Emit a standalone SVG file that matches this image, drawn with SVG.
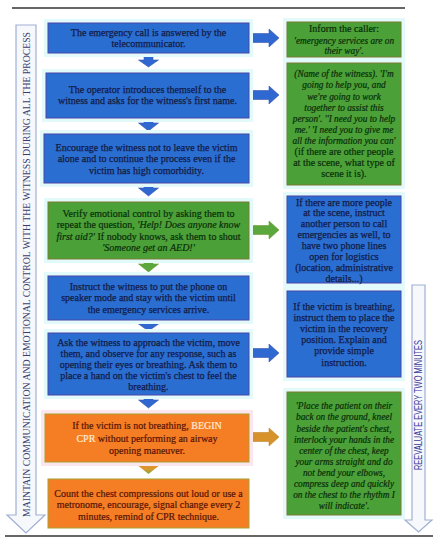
<svg xmlns="http://www.w3.org/2000/svg" width="439" height="550" viewBox="0 0 439 550">
<style>
text{font-family:"Liberation Serif","Times New Roman",serif;font-size:10px;text-anchor:middle}
.glow{fill:#E3FAFA}
.bb{fill:#2B6ED2;stroke:#4A45A6;stroke-width:1}
.gb{fill:#4BA037;stroke:#7C7A34;stroke-width:1}
.ob{fill:#F57D23;stroke:#A7A033;stroke-width:1}
.tb{fill:#121C48;stroke:#121C48;stroke-width:0.25}
.tg{fill:#0A2E0A;stroke:#0A2E0A;stroke-width:0.2}
.to{fill:#551407;stroke:#551407;stroke-width:0.2}
.it{font-style:italic;font-size:9.3px}
.ba{fill:#2E68D0;stroke:#3D56B0;stroke-width:0.6}
.ga{fill:#5AA83C;stroke:#6E9A38;stroke-width:0.6}
.side{fill:#F6F8FC;stroke:#9FB0D4;stroke-width:1.2}
.wh{fill:#FFEBD6;stroke:#FFEBD6}
</style>
<defs>
<linearGradient id="og" x1="0" y1="0" x2="0" y2="1">
<stop offset="0" stop-color="#EF8A2A"/>
<stop offset="0.6" stop-color="#D69A2E"/>
<stop offset="1" stop-color="#7FA83A"/>
</linearGradient>
</defs>
<line x1="12" y1="8" x2="405" y2="8" stroke="#333" stroke-width="1.6"/>
<line x1="5" y1="536" x2="433" y2="536" stroke="#333" stroke-width="1.6"/>
<g id="side-left">
<path class="side" d="M16,25 H36 V515 H45 L26,533 L7,515 H16 Z"/>
<text transform="translate(30,274.5) rotate(-90)" font-size="8.5" fill="#3A3C6E" textLength="485" lengthAdjust="spacingAndGlyphs">MAINTAIN COMMUNICATION AND EMOTIONAL CONTROL WITH THE WITNESS DURING ALL THE PROCESS</text>
</g>
<g id="side-right">
<path class="side" d="M412,285 H425 V520 H432 L418.5,532 L405,520 H412 Z"/>
<text transform="translate(421.5,405) rotate(-90)" style="font-family:'Liberation Sans',Arial,sans-serif" font-size="8" fill="#3A3A9A" textLength="130" lengthAdjust="spacingAndGlyphs">REEVALUATE EVERY TWO MINUTES</text>
</g>
<g id="connectors">
<path class="ba" d="M144,53 H153 V60 H158.5 L148.5,67 L138.5,60 H144 Z"/>
<path class="ba" d="M144,118 H153 V123 H158.5 L148.5,131 L138.5,123 H144 Z"/>
<path class="ba" d="M144,183 H153 V188 H158.5 L148.5,196 L138.5,188 H144 Z"/>
<path class="ga" d="M144,259 H153 V264 H158.5 L148.5,272 L138.5,264 H144 Z"/>
<path class="ba" d="M144,320 H153 V324 H158.5 L148.5,331 L138.5,324 H144 Z"/>
<path class="ba" d="M144,395 H153 V400 H158.5 L148.5,408 L138.5,400 H144 Z"/>
<path d="M144,462 H153 V466 H158.5 L148.5,474 L138.5,466 H144 Z" fill="url(#og)"/>
<path class="ba" d="M249,33.5 H269 V29 L279,38 L269,47 V42.5 H249 Z"/>
<path class="ba" d="M249,90.5 H269 V86 L279,95 L269,104 V99.5 H249 Z"/>
<path class="ga" d="M249,225.5 H269 V221 L279,230 L269,239 V234.5 H249 Z"/>
<path class="ba" d="M249,348.5 H269 V344 L279,353 L269,362 V357.5 H249 Z"/>
<path d="M249,432.5 H269 V428 L279,437 L269,446 V441.5 H249 Z" fill="#D8922C" stroke="#C0882C" stroke-width="0.6"/>
</g>
<g id="n1">
<rect class="glow" x="44" y="19" width="209" height="38"/>
<rect class="bb" x="48" y="23" width="201" height="30"/>
<text class="tb" x="148.5" y="35.5">The emergency call is answered by the</text>
<text class="tb" x="148.5" y="46.5">telecommunicator.</text>
</g>
<g id="n2">
<rect class="glow" x="42" y="69" width="211" height="53"/>
<rect class="bb" x="46" y="73" width="203" height="45"/>
<text class="tb" x="147.5" y="92.5">The operator introduces  themself to the</text>
<text class="tb" x="147.5" y="103.5">witness and asks for the witness's first name.</text>
</g>
<g id="n3">
<rect class="glow" x="40" y="130" width="213" height="57"/>
<rect class="bb" x="44" y="134" width="205" height="49"/>
<text class="tb" x="146.5" y="150.5">Encourage the witness not to leave the victim</text>
<text class="tb" x="146.5" y="162">alone and to continue the process even if the</text>
<text class="tb" x="146.5" y="173.5">victim has high comorbidity.</text>
</g>
<g id="n4">
<rect class="glow" x="44" y="198" width="209" height="65"/>
<rect class="gb" x="48" y="202" width="201" height="57"/>
<text class="tg" x="148.5" y="216.5">Verify emotional control by asking them to</text>
<text class="tg" x="148.5" y="228">repeat the question, <tspan font-style="italic">'Help! Does anyone know</tspan></text>
<text class="tg" x="148.5" y="239.5"><tspan font-style="italic">first aid?'</tspan> If nobody knows, ask them to shout</text>
<text class="tg" x="148.5" y="251" font-style="italic">'Someone get an AED!'</text>
</g>
<g id="n5">
<rect class="glow" x="44" y="272" width="209" height="52"/>
<rect class="bb" x="48" y="276" width="201" height="44"/>
<text class="tb" x="148.5" y="289.5">Instruct the witness to put the phone on</text>
<text class="tb" x="148.5" y="301">speaker mode and stay with the victim until</text>
<text class="tb" x="148.5" y="312.5">the emergency services arrive.</text>
</g>
<g id="n6">
<rect class="glow" x="44" y="329" width="209" height="70"/>
<rect class="bb" x="48" y="333" width="201" height="62"/>
<text class="tb" x="148.5" y="345.5">Ask the witness to approach  the victim, move</text>
<text class="tb" x="148.5" y="357">them, and observe for any response, such as</text>
<text class="tb" x="148.5" y="368">opening their eyes or breathing. Ask them to</text>
<text class="tb" x="148.5" y="379">place a hand on the victim's chest to feel the</text>
<text class="tb" x="148.5" y="390">breathing.</text>
</g>
<g id="n7">
<rect x="41" y="410" width="212" height="56" fill="#FCE6EE"/>
<rect class="ob" x="45" y="414" width="204" height="48"/>
<text class="to" x="147" y="429" font-size="11.5">If the victim is not breathing, <tspan class="wh">BEGIN</tspan></text>
<text class="to" x="147" y="441.5" font-size="11.5"><tspan class="wh">CPR</tspan> without performing an airway</text>
<text class="to" x="147" y="454" font-size="11.5">opening maneuver.</text>
</g>
<g id="n8">
<rect class="ob" x="48" y="479" width="201" height="49"/>
<text class="to" x="148.5" y="496.5">Count the chest compressions out loud or use a</text>
<text class="to" x="148.5" y="508">metronome, encourage, signal change every 2</text>
<text class="to" x="148.5" y="519.5">minutes, remind of CPR technique.</text>
</g>
<g id="r1">
<rect class="glow" x="283" y="18" width="122" height="43"/>
<rect class="gb" x="287" y="22" width="114" height="35"/>
<text class="tg" x="344" y="31.5">Inform the caller:</text>
<text class="tg it" x="344" y="44">'emergency services are on</text>
<text class="tg it" x="344" y="54">their way'.</text>
</g>
<g id="r2">
<rect class="glow" x="283" y="59" width="122" height="130"/>
<rect class="gb" x="287" y="63" width="114" height="122"/>
<text class="tg it" x="344" y="77.3">(Name of the witness). 'I'm</text>
<text class="tg it" x="344" y="88.4">going to help you, and</text>
<text class="tg it" x="344" y="99.5">we're going to work</text>
<text class="tg it" x="344" y="110.6">together to assist this</text>
<text class="tg it" x="344" y="121.7">person'. ''I need you to help</text>
<text class="tg it" x="344" y="132.8">me.' 'I need you to give me</text>
<text class="tg it" x="344" y="143.9">all the information you can'</text>
<text class="tg" x="344" y="155">(if there are other people</text>
<text class="tg" x="344" y="166.1">at the scene, what type of</text>
<text class="tg" x="344" y="177.2">scene it is).</text>
</g>
<g id="r3">
<rect class="glow" x="283" y="192" width="122" height="95"/>
<rect class="bb" x="287" y="196" width="114" height="87"/>
<text class="tb" x="344" y="205.5">If there are more people</text>
<text class="tb" x="344" y="216.4">at the scene, instruct</text>
<text class="tb" x="344" y="227.3">another person to call</text>
<text class="tb" x="344" y="238.2">emergencies as well, to</text>
<text class="tb" x="344" y="249.1">have two phone lines</text>
<text class="tb" x="344" y="260">open for logistics</text>
<text class="tb" x="344" y="270.9">(location,  administrative</text>
<text class="tb" x="344" y="281.5">details...)</text>
</g>
<g id="r4">
<rect class="glow" x="283" y="287" width="122" height="94"/>
<rect class="bb" x="287" y="291" width="114" height="86"/>
<text class="tb" x="344" y="309.5">If the victim is breathing,</text>
<text class="tb" x="344" y="320.7">instruct them to place the</text>
<text class="tb" x="344" y="331.9">victim in the recovery</text>
<text class="tb" x="344" y="343.1">position. Explain and</text>
<text class="tb" x="344" y="354.3">provide simple</text>
<text class="tb" x="344" y="365.5">instruction.</text>
</g>
<g id="r5">
<rect class="glow" x="283" y="388" width="122" height="131"/>
<rect class="gb" x="287" y="392" width="114" height="123"/>
<text class="tg it" x="344" y="409.3">'Place the patient on their</text>
<text class="tg it" x="344" y="420.4">back on the ground, kneel</text>
<text class="tg it" x="344" y="431.5">beside the patient's chest,</text>
<text class="tg it" x="344" y="442.6">interlock your hands in the</text>
<text class="tg it" x="344" y="453.7">center of the chest, keep</text>
<text class="tg it" x="344" y="464.8">your arms straight and do</text>
<text class="tg it" x="344" y="475.9">not bend your elbows,</text>
<text class="tg it" x="344" y="487">compress deep and quickly</text>
<text class="tg it" x="344" y="498.1">on the chest to the rhythm I</text>
<text class="tg it" x="344" y="509.2">will indicate'.</text>
</g>
</svg>
